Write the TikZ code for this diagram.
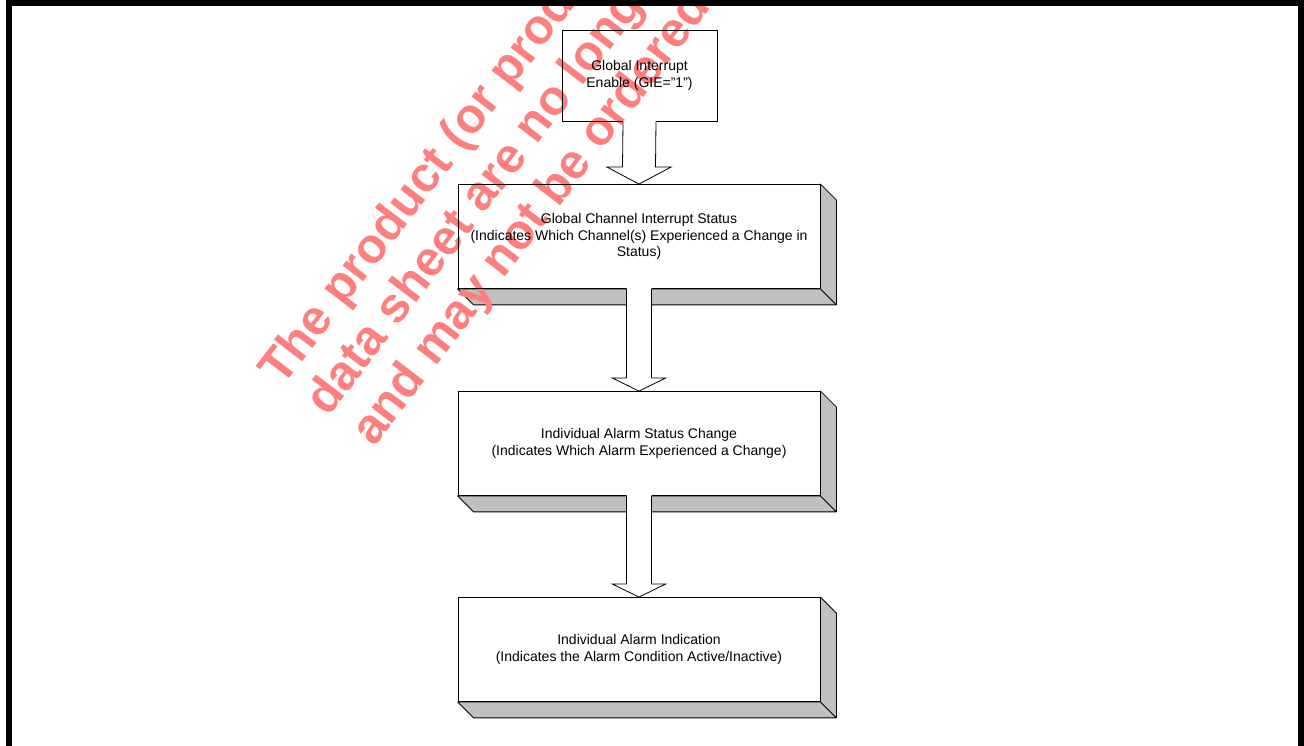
\documentclass[tikz,border=0pt]{standalone}
\usepackage{fontspec}
\setmainfont{Liberation Sans}
\usepackage{tikz}
\usetikzlibrary{calc}
\definecolor{MarkRed}{HTML}{FF7F7F}
\definecolor{FaceGray}{HTML}{C0C0C0}
\pgfdeclarelayer{back}
\pgfsetlayers{back,main}

\begin{document}
\begin{tikzpicture}[x=1pt,y=1pt,
    flowbox/.style={draw, line width=0.8pt, align=center, inner sep=0pt,
      minimum width=362pt, minimum height=104pt,
      font=\fontsize{14}{16.7}\selectfont},
    face/.style={fill=FaceGray, draw, line width=0.8pt, line join=round},
    shaft/.style={line width=0.8pt},
    markline/.style={MarkRed, anchor=base west, rotate=52.5, inner sep=0pt,
      font=\fontsize{49}{49}\selectfont\bfseries}]
  \useasboundingbox (0,0) rectangle (1304,746);
  \begin{scope}
  \clip (0,0) rectangle (1304,746);
  % flow boxes
  \node[flowbox, minimum width=155pt, minimum height=91pt] (gie) at (639.5,670.5)
    {Global Interrupt\\Enable (GIE="1")};
  \node[flowbox] (gcis) at (639,509.5)
    {Global Channel Interrupt Status\\(Indicates Which Channel(s) Experienced a Change in\\Status)};
  \node[flowbox] (iasc) at (639,302.5)
    {Individual Alarm Status Change\\(Indicates Which Alarm Experienced a Change)};
  \node[flowbox] (iai) at (639,96.5)
    {Individual Alarm Indication\\(Indicates the Alarm Condition Active/Inactive)};

  % 3d faces and the red mark go behind
  \begin{pgfonlayer}{back}
    \foreach \b in {gcis,iasc,iai}
      \filldraw[face] (\b.north east) -- ++(16,-16) -- ($(\b.south east)+(16,-16)$)
        -- ($(\b.south west)+(16,-16)$) -- (\b.south west) -- (\b.south east) -- cycle
        (\b.south east) -- ++(16,-16);
    \node[markline] (mark1) at (282,358) {The product (or products)};
    \node[markline] (mark2) at (328,328) {data sheet are no longer};
    \node[markline] (mark3) at (374,298) {and may not be ordered (};
  \end{pgfonlayer}

  % block arrows
  \foreach \p/\q/\sw/\hw/\hl in {gie/gcis/16.5/32/17, gcis/iasc/12.5/26.5/13, iasc/iai/12.5/26.5/13} {
    \fill[white] ($(\p.south)+(-\sw,0.8)$) -- ($(\q.north)+(-\sw,\hl)$) -- ($(\q.north)+(-\hw,\hl)$)
      -- (\q.north) -- ($(\q.north)+(\hw,\hl)$) -- ($(\q.north)+(\sw,\hl)$) -- ($(\p.south)+(\sw,0.8)$) -- cycle;
    \draw[shaft] ($(\p.south)+(-\sw,0)$) -- ($(\q.north)+(-\sw,\hl)$) -- ($(\q.north)+(-\hw,\hl)$)
      -- (\q.north) -- ($(\q.north)+(\hw,\hl)$) -- ($(\q.north)+(\sw,\hl)$) -- ($(\p.south)+(\sw,0)$);
  }

  % page frame
  \draw[line width=6pt] (9,0) -- (9,742.5) -- (1301,742.5) -- (1301,0);
  \end{scope}
\end{tikzpicture}
\end{document}
